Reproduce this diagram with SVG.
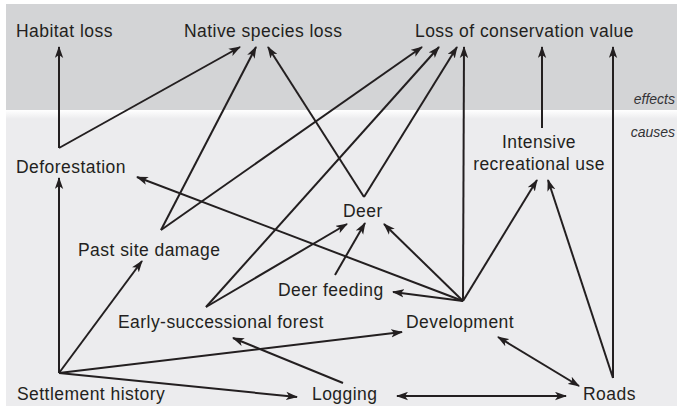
<svg xmlns="http://www.w3.org/2000/svg" width="677" height="414" viewBox="0 0 677 414">
<defs>
<marker id="ah" markerUnits="userSpaceOnUse" markerWidth="12" markerHeight="9" viewBox="0 0 12 9" refX="11" refY="4.5" orient="auto-start-reverse">
<path d="M0,0.3 L12,4.5 L0,8.7 L3,4.5 z" fill="#231f20"/>
</marker>
<linearGradient id="fade" x1="0" y1="0" x2="0" y2="1">
<stop offset="0" stop-color="#ffffff"/>
<stop offset="1" stop-color="#ececee"/>
</linearGradient>
<style>
.t{font-family:"Liberation Sans",Arial,sans-serif;font-size:17.5px;letter-spacing:0.45px;fill:#231f20}
.i{font-family:"Liberation Sans",Arial,sans-serif;font-size:14px;font-style:italic;fill:#333336;text-anchor:end}
.c line{stroke:#231f20;stroke-width:2;fill:none}
.a{marker-end:url(#ah)}
.b{marker-start:url(#ah);marker-end:url(#ah)}
</style>
</defs>
<rect x="0" y="0" width="677" height="414" fill="#ffffff"/>
<rect x="6" y="4" width="671" height="106" fill="#d3d4d6"/>
<rect x="6" y="110" width="671" height="296" fill="#ececee"/>
<rect x="6" y="110" width="671" height="9" fill="url(#fade)"/>
<text class="i" x="675" y="104">effects</text>
<text class="i" x="675" y="137">causes</text>
<g class="c">
<line class="a" x1="59" y1="148" x2="59" y2="47"/>
<line class="a" x1="59" y1="148" x2="240" y2="47"/>
<line class="a" x1="59" y1="373" x2="59" y2="178"/>
<line class="a" x1="161" y1="230" x2="256" y2="47"/>
<line class="a" x1="161" y1="230" x2="422" y2="47"/>
<line class="a" x1="364" y1="197" x2="268" y2="47"/>
<line class="a" x1="364" y1="197" x2="457" y2="47"/>
<line class="a" x1="206" y1="307" x2="439" y2="47"/>
<line class="a" x1="206" y1="307" x2="347" y2="224"/>
<line class="a" x1="463" y1="301" x2="464" y2="47"/>
<line class="a" x1="463" y1="301" x2="537" y2="180"/>
<line class="a" x1="463" y1="301" x2="384" y2="224"/>
<line class="a" x1="463" y1="301" x2="393" y2="292"/>
<line class="a" x1="463" y1="301" x2="137" y2="177"/>
<line class="a" x1="542" y1="128" x2="542" y2="47"/>
<line class="a" x1="613" y1="378" x2="613" y2="47"/>
<line class="a" x1="613" y1="378" x2="548" y2="180"/>
<line class="b" x1="498" y1="337" x2="579" y2="386"/>
<line class="b" x1="397" y1="396" x2="566" y2="396"/>
<line class="a" x1="59" y1="373" x2="142" y2="261"/>
<line class="a" x1="59" y1="373" x2="402" y2="332"/>
<line class="a" x1="59" y1="373" x2="297" y2="397"/>
<line class="a" x1="343" y1="383" x2="233" y2="338"/>
<line class="a" x1="335" y1="275" x2="365" y2="223"/>
</g>
<g id="habitat-loss"><text class="t" x="16" y="37">Habitat loss</text></g>
<g id="native-species-loss"><text class="t" x="184" y="37">Native species loss</text></g>
<g id="loss-conservation-value"><text class="t" x="415" y="37">Loss of conservation value</text></g>
<g id="deforestation"><text class="t" x="16" y="173">Deforestation</text></g>
<g id="intensive-recreational-use"><text class="t" x="539" y="148" text-anchor="middle">Intensive</text><text class="t" x="539" y="170" text-anchor="middle">recreational use</text></g>
<g id="deer"><text class="t" x="343" y="217">Deer</text></g>
<g id="past-site-damage"><text class="t" x="78" y="256">Past site damage</text></g>
<g id="deer-feeding"><text class="t" x="278" y="296">Deer feeding</text></g>
<g id="early-successional-forest"><text class="t" x="118" y="328">Early-successional forest</text></g>
<g id="development"><text class="t" x="406" y="328">Development</text></g>
<g id="settlement-history"><text class="t" x="17" y="400">Settlement history</text></g>
<g id="logging"><text class="t" x="312" y="400">Logging</text></g>
<g id="roads"><text class="t" x="583" y="400">Roads</text></g>
</svg>
